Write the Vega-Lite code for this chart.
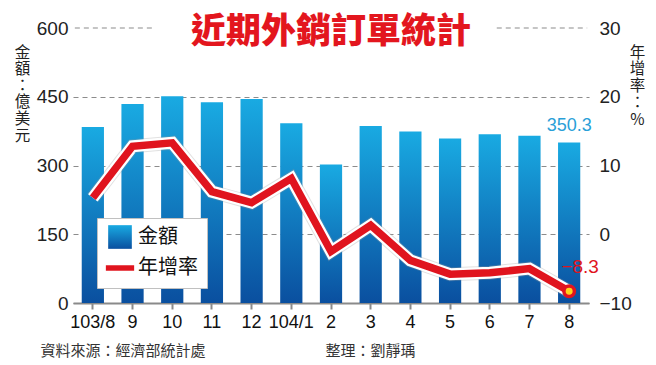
{
  "$schema": "https://vega.github.io/schema/vega-lite/v6.json",
  "width": 516,
  "height": 275,
  "autosize": {"type": "none"},
  "padding": {"left": 73, "top": 28, "right": 67, "bottom": 62},
  "background": "white",
  "config": {
    "view": {"stroke": null},
    "font": "Liberation Sans"
  },
  "title": {
    "text": "近期外銷訂單統計",
    "font": "Noto Sans CJK TC",
    "fontSize": 35,
    "fontWeight": 900,
    "color": "#e3161e",
    "anchor": "middle",
    "frame": "group",
    "baseline": "middle",
    "offset": 0,
    "dy": 48
  },
  "datasets": {
    "orders": [
      {"m": "103/8", "amt": 384, "yoy": 5.3},
      {"m": "9", "amt": 434, "yoy": 12.8},
      {"m": "10", "amt": 451, "yoy": 13.3},
      {"m": "11", "amt": 438, "yoy": 6.2},
      {"m": "12", "amt": 445, "yoy": 4.6},
      {"m": "104/1", "amt": 392, "yoy": 8.1},
      {"m": "2", "amt": 302, "yoy": -2.5},
      {"m": "3", "amt": 386, "yoy": 1.3},
      {"m": "4", "amt": 374, "yoy": -3.8},
      {"m": "5", "amt": 359, "yoy": -5.8},
      {"m": "6", "amt": 368, "yoy": -5.6},
      {"m": "7", "amt": 365, "yoy": -5.0},
      {"m": "8", "amt": 350.3, "yoy": -8.3}
    ]
  },
  "data": {"name": "orders"},
  "layer": [
    {
      "layer": [
        {
          "mark": {
            "type": "bar",
            "strokeWidth": 0,
            "fill": {
              "gradient": "linear", "x1": 0, "y1": 0, "x2": 0, "y2": 1,
              "stops": [
                {"offset": 0, "color": "#19aae2"},
                {"offset": 1, "color": "#0a4f9f"}
              ]
            }
          },
          "encoding": {
            "x": {
              "field": "m", "type": "nominal", "sort": null,
              "scale": {
                "domain": ["103/8", "9", "10", "11", "12", "104/1", "2", "3", "4", "5", "6", "7", "8"],
                "paddingInner": 0.44, "paddingOuter": 0.22
              },
              "axis": {
                "orient": "bottom",
                "title": "資料來源：經濟部統計處",
                "titleX": -33, "titleY": 47,
                "titleAlign": "left", "titleBaseline": "middle",
                "titleFont": "Noto Sans CJK TC", "titleFontSize": 15,
                "titleFontWeight": "normal", "titleColor": "#333",
                "labelAngle": 0, "labelFontSize": 18, "labelColor": "#111",
                "labelPadding": 4,
                "tickSize": 6, "tickColor": "#8a8a8a", "tickWidth": 2,
                "domainColor": "#8a8a8a", "domainWidth": 2
              }
            },
            "y": {
              "field": "amt", "type": "quantitative",
              "scale": {"domain": [0, 600]},
              "axis": {
                "values": [0, 150, 300, 450, 600],
                "title": ["金", "額", "：", "億", "美", "元"],
                "titleAngle": 0, "titleX": -51, "titleY": 17,
                "titleAlign": "center", "titleBaseline": "top",
                "titleFont": "Noto Sans CJK TC", "titleFontSize": 15.5,
                "titleFontWeight": "normal", "titleLineHeight": 16.6,
                "titleColor": "#222",
                "labelFontSize": 19, "labelColor": "#222", "labelPadding": 5,
                "labelFlush": false,
                "ticks": false, "domain": false,
                "grid": true,
                "gridColor": {"condition": {"test": "datum.value === 600", "value": "transparent"}, "value": "#8c8c8c"},
                "gridDash": [5, 4], "gridWidth": 1.2
              }
            }
          }
        },
        {
          "transform": [{"filter": "datum.m === '8'"}],
          "mark": {"type": "text", "baseline": "bottom", "dy": -7, "fontSize": 18, "color": "#2a9fd8"},
          "encoding": {
            "x": {"field": "m", "type": "nominal"},
            "y": {"field": "amt", "type": "quantitative"},
            "text": {"field": "amt", "type": "quantitative"}
          }
        },
        {
          "data": {"values": [{"a": "103/8", "b": "10", "v": 600}]},
          "mark": {"type": "rule", "color": "#8c8c8c", "strokeWidth": 1.2, "strokeDash": [5, 4], "xOffset": -18, "x2Offset": -17},
          "encoding": {
            "x": {"field": "a", "type": "nominal"},
            "x2": {"field": "b"},
            "y": {"field": "v", "type": "quantitative"}
          }
        },
        {
          "data": {"values": [{"a": "6", "b": "8", "v": 600}]},
          "mark": {"type": "rule", "color": "#8c8c8c", "strokeWidth": 1.2, "strokeDash": [5, 4], "xOffset": 7, "x2Offset": 18},
          "encoding": {
            "x": {"field": "a", "type": "nominal"},
            "x2": {"field": "b"},
            "y": {"field": "v", "type": "quantitative"}
          }
        }
      ]
    },
    {
      "layer": [
        {
          "mark": {"type": "line", "color": "#9a9a9a", "strokeWidth": 14, "opacity": 0.3},
          "encoding": {
            "x": {
              "field": "m", "type": "nominal", "sort": null,
              "axis": {
                "orient": "bottom",
                "title": "整理：劉靜瑀",
                "titleX": 252, "titleY": 47,
                "titleAlign": "left", "titleBaseline": "middle",
                "titleFont": "Noto Sans CJK TC", "titleFontSize": 15,
                "titleFontWeight": "normal", "titleColor": "#333",
                "labels": false, "ticks": false, "domain": false, "grid": false
              }
            },
            "y": {
              "field": "yoy", "type": "quantitative",
              "scale": {"domain": [-10, 30]},
              "axis": {
                "orient": "right",
                "values": [-10, 0, 10, 20, 30],
                "title": ["年", "增", "率", "：", "%"],
                "titleAngle": 0, "titleX": 48, "titleY": 17,
                "titleAlign": "center", "titleBaseline": "top",
                "titleFont": "Noto Sans CJK TC", "titleFontSize": 15.5,
                "titleFontWeight": "normal", "titleLineHeight": 16.8,
                "titleColor": "#222",
                "labelFontSize": 19, "labelColor": "#222", "labelPadding": 10,
                "labelFlush": false,
                "ticks": false, "domain": false, "grid": false
              }
            }
          }
        },
        {
          "mark": {"type": "line", "color": "white", "strokeWidth": 12},
          "encoding": {
            "x": {"field": "m", "type": "nominal", "sort": null},
            "y": {"field": "yoy", "type": "quantitative"}
          }
        },
        {
          "mark": {"type": "line", "strokeWidth": 7.5},
          "encoding": {
            "x": {"field": "m", "type": "nominal", "sort": null},
            "y": {"field": "yoy", "type": "quantitative"},
            "stroke": {
              "datum": "年增率",
              "scale": {"domain": ["金額", "年增率"], "range": ["#0b6cbd", "#e0141e"]},
              "legend": {
                "title": null, "orient": "none", "legendX": 24, "legendY": 190,
                "fillColor": "white", "strokeColor": "#c0c0c0",
                "padding": 9,
                "labelFont": "Noto Sans CJK TC", "labelFontSize": 20, "labelColor": "#111",
                "labelOffset": 8, "symbolSize": 620, "rowPadding": 8,
                "symbolOffset": 4,
                "symbolType": "stroke",
                "encode": {
                  "symbols": {
                    "update": {
                      "shape": {"signal": "datum.value === '金額' ? 'square' : 'stroke'"},
                      "size": {"signal": "datum.value === '金額' ? 560 : 800"},
                      "fill": {"value": {
                        "gradient": "linear", "x1": 0, "y1": 0, "x2": 0, "y2": 1,
                        "stops": [{"offset": 0, "color": "#19aae2"}, {"offset": 1, "color": "#0a4f9f"}]
                      }},
                      "strokeWidth": {"signal": "datum.value === '金額' ? 0 : 5.5"}
                    }
                  }
                }
              }
            }
          }
        },
        {
          "transform": [{"filter": "datum.m === '8'"}],
          "mark": {"type": "point", "filled": true, "fill": "#ffd21a", "stroke": "#e0141e", "strokeWidth": 3.5, "size": 110, "opacity": 1},
          "encoding": {
            "x": {"field": "m", "type": "nominal"},
            "y": {"field": "yoy", "type": "quantitative"}
          }
        },
        {
          "transform": [{"filter": "datum.m === '8'"}],
          "mark": {"type": "text", "dx": 11, "dy": -24, "fontSize": 19, "color": "#e0141e"},
          "encoding": {
            "x": {"field": "m", "type": "nominal"},
            "y": {"field": "yoy", "type": "quantitative"},
            "text": {"field": "yoy", "type": "quantitative"}
          }
        }
      ]
    }
  ],
  "resolve": {
    "scale": {"y": "independent"},
    "axis": {"x": "independent", "y": "independent"}
  }
}
